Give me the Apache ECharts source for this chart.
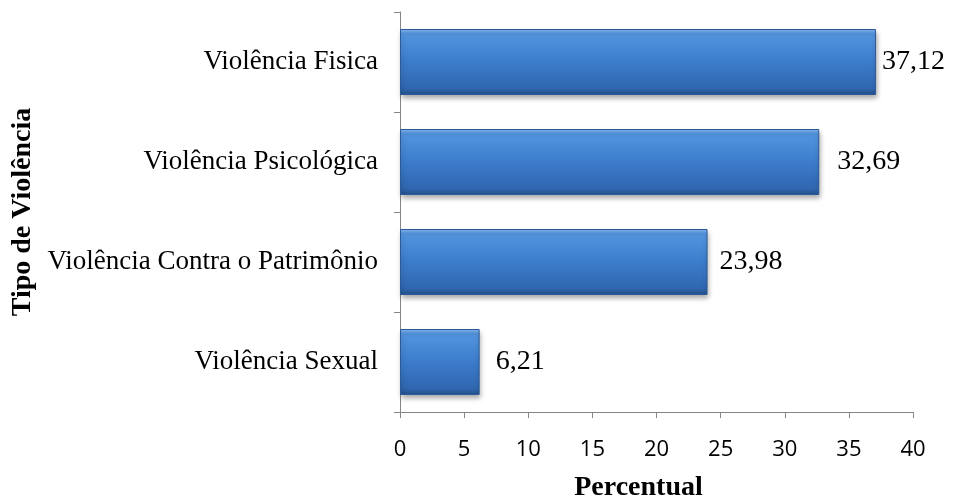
<!DOCTYPE html>
<html><head><meta charset="utf-8">
<script src="https://cdn.jsdelivr.net/npm/echarts@6/dist/echarts.min.js"></script>
<style>html,body{margin:0;padding:0;background:#fff}#c{width:955px;height:500px}</style>
</head><body><div id="c"></div>
<script>
const categories = ["Violência Fisica", "Violência Psicológica", "Violência Contra o Patrimônio", "Violência Sexual"];
const values = [37.12, 32.69, 23.98, 6.21];
const labelOffsets = [2, 14, 8, 12];
const xTicks = {min: 0, max: 40, interval: 5};

const chart = echarts.init(document.getElementById('c'), null, {renderer: 'canvas'});
const barColor = new echarts.graphic.LinearGradient(0, 0, 0, 1, [
  {offset: 0, color: '#8dbcf2'},
  {offset: 0.07, color: '#5496e0'},
  {offset: 0.5, color: '#3c7ccb'},
  {offset: 0.9, color: '#3067b0'},
  {offset: 1, color: '#234f8a'}
]);
chart.setOption({
  animation: false,
  grid: {left: 400, right: 42, top: 12, bottom: 88, containLabel: false, outerBoundsMode: 'none'},
  xAxis: {
    type: 'value', min: xTicks.min, max: xTicks.max, interval: xTicks.interval,
    axisLine: {show: true, lineStyle: {color: '#868686', width: 1}},
    axisTick: {show: true, length: 6, lineStyle: {color: '#868686'}},
    splitLine: {show: false},
    axisLabel: {color: '#000', fontFamily: 'Open Sans', fontSize: 22, margin: 27},
    name: 'Percentual', nameLocation: 'middle', nameGap: 62,
    nameTextStyle: {color: '#000', fontFamily: 'Liberation Serif', fontWeight: 'bold', fontSize: 28, padding: [0, 36, 0, 0]}
  },
  yAxis: {
    type: 'category', data: categories, inverse: true,
    axisLine: {show: true, lineStyle: {color: '#868686', width: 1}},
    axisTick: {show: true, length: 6, lineStyle: {color: '#868686'}},
    axisLabel: {color: '#000', fontFamily: 'Liberation Serif', fontSize: 27, margin: 22},
    name: 'Tipo de Violência', nameLocation: 'middle', nameGap: 354, nameRotate: 90,
    nameTextStyle: {color: '#000', fontFamily: 'Liberation Serif', fontWeight: 'bold', fontSize: 28}
  },
  series: [{
    type: 'bar',
    data: values.map((v, i) => ({value: v, label: {offset: [labelOffsets[i], 0]}})),
    barCategoryGap: '34%',
    itemStyle: {color: barColor, borderColor: '#2a5a98', borderWidth: 1,
      shadowColor: 'rgba(0,0,0,0.35)', shadowBlur: 5, shadowOffsetY: 3, shadowOffsetX: 1},
    label: {show: true, position: 'right', distance: 4, color: '#000',
      fontFamily: 'Liberation Serif', fontSize: 28,
      formatter: p => p.value.toFixed(2).replace('.', ',')}
  }]
});
</script></body></html>
